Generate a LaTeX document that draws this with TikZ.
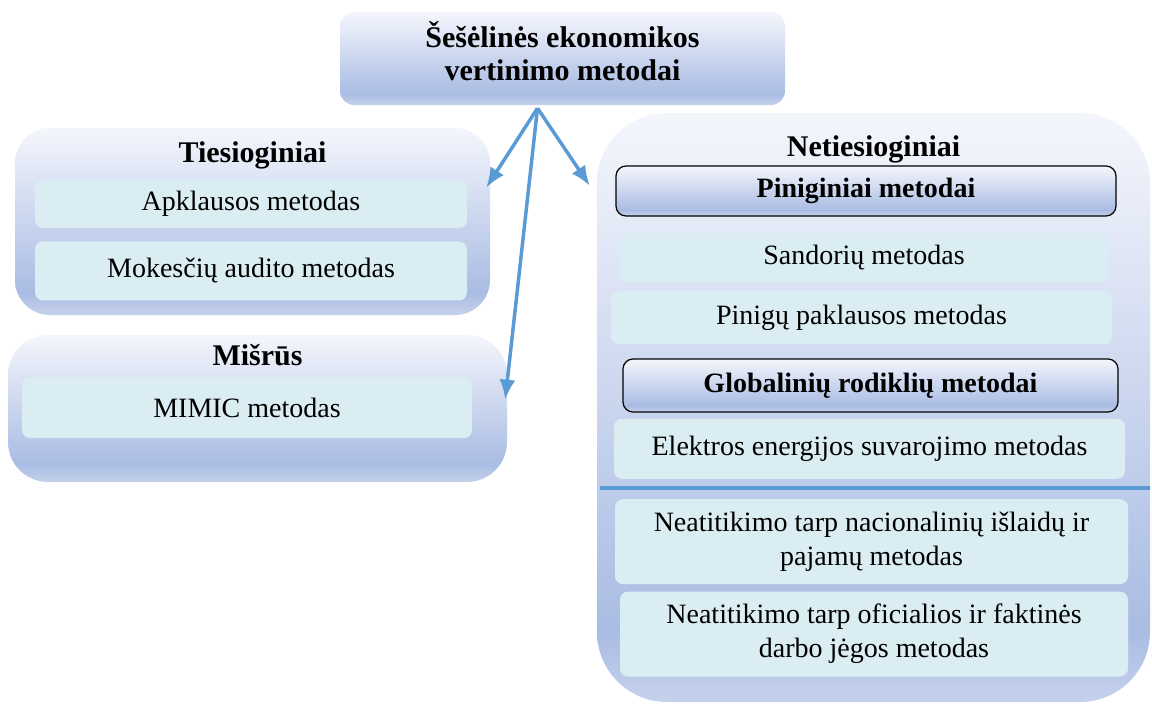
\documentclass[tikz,border=0pt]{standalone}
\usepackage{fontspec}
\setmainfont{Liberation Serif}
\usepackage{xcolor}
\usepackage{tikz}
\usetikzlibrary{positioning,calc,arrows.meta}
\definecolor{shadetop}{HTML}{F4F6FC}
\definecolor{shadebot}{HTML}{A9BCE3}
\definecolor{shadeedge}{HTML}{C6D2EC}
\definecolor{cellfill}{HTML}{DAEDF2}
\definecolor{arrowblue}{HTML}{5B9BD5}
\pgfdeclareverticalshading{boxshade}{100bp}{color(0bp)=(shadeedge); color(25bp)=(shadeedge); color(31bp)=(shadebot); color(75bp)=(shadetop); color(100bp)=(shadetop)}
\tikzstyle{group} = [rectangle, shading=boxshade, inner sep=0pt]
\tikzstyle{cell} = [rectangle, fill=cellfill, rounded corners=8pt, align=center, inner sep=0pt, font=\fontsize{28}{34}\selectfont]
\tikzstyle{head} = [rectangle, draw=black, line width=1.2pt, shading=boxshade, rounded corners=10pt, inner sep=0pt, font=\bfseries\fontsize{28}{34}\selectfont]
\tikzstyle{title} = [inner sep=0pt, align=center, font=\bfseries\fontsize{30}{33}\selectfont]
\tikzstyle{line} = [draw=arrowblue, line width=3.5pt, -{Latex[length=20pt,width=16pt]}]
\tikzstyle{sepline} = [draw=arrowblue, line width=3.5pt]

\begin{document}
\begin{tikzpicture}[x=1pt, y=-1pt]
\useasboundingbox (0,0) rectangle (1152,704);

% outer groups
\node [group, rounded corners=14pt, minimum width=445pt, minimum height=93pt] (top) at (562.5,58.5) {};
\node [group, rounded corners=35pt, minimum width=475pt, minimum height=187pt] (tiesio) at (252.5,221.5) {};
\node [group, rounded corners=40pt, minimum width=499pt, minimum height=147pt] (misr) at (257.5,408.5) {};
\node [group, rounded corners=70pt, minimum width=553pt, minimum height=589pt] (neti) at (873.5,407.5) {};

% titles
\node [title] (toptitle) at ($(top.center)+(0,-7)$) {Šešėlinės ekonomikos\\vertinimo metodai};
\node [title] (tiesiotitle) at ($(tiesio.north)+(0,28)$) {Tiesioginiai};
\node [title] (misrtitle) at ($(misr.north)+(0,20)$) {Mišrūs};
\node [title] (netititle) at ($(neti.north)+(0,37)$) {Netiesioginiai};

% direct methods
\node [cell, minimum width=432pt, minimum height=48pt] (app) at (251,204) {Apklausos metodas};
\node [cell, minimum width=432pt, minimum height=59pt, below=13pt of app] (mok) {Mokesčių audito metodas};

% mixed methods
\node [cell, minimum width=450pt, minimum height=61pt] (mimic) at (247,407.5) {MIMIC metodas};

% indirect methods
\node [head, minimum width=500pt, minimum height=50pt] (pin) at (866,191) {Piniginiai metodai};
\node [cell, minimum width=488pt, minimum height=49pt, below=16pt of pin, xshift=-2pt] (sand) {Sandorių metodas};
\node [cell, minimum width=501pt, minimum height=53pt, below=9pt of sand, xshift=-2.5pt] (pinp) {Pinigų paklausos metodas};
\node [head, minimum width=495pt, minimum height=53pt, below=14pt of pinp, xshift=9pt] (glob) {Globalinių rodiklių metodai};
\node [cell, minimum width=511pt, minimum height=60pt, below=6pt of glob, xshift=-1pt] (elek) {Elektros energijos suvarojimo metodas};
\coordinate (sep) at ($(elek.south)+(0,9)$);
\node [cell, minimum width=513pt, minimum height=85pt, below=20pt of elek, xshift=2pt] (neat1) {Neatitikimo tarp nacionalinių išlaidų ir\\pajamų metodas};
\node [cell, minimum width=508pt, minimum height=85pt, below=7pt of neat1, xshift=2.5pt] (neat2) {Neatitikimo tarp oficialios ir faktinės\\darbo jėgos metodas};

\path [sepline] ($(neti.west |- sep)+(3,0)$) -- (neti.east |- sep);

% arrows
\coordinate (fork) at ($(top.south)+(-25,3)$);
\path [line] (fork) -- ($(tiesio.north east)!0.32!(tiesio.south east)+(-4,0)$);
\path [line] (fork) -- ($(neti.north west)!0.124!(neti.south west)+(-7,0)$);
\path [line] (fork) -- ($(misr.north east)!0.44!(misr.south east)+(-2,0)$);

\end{tikzpicture}
\end{document}
